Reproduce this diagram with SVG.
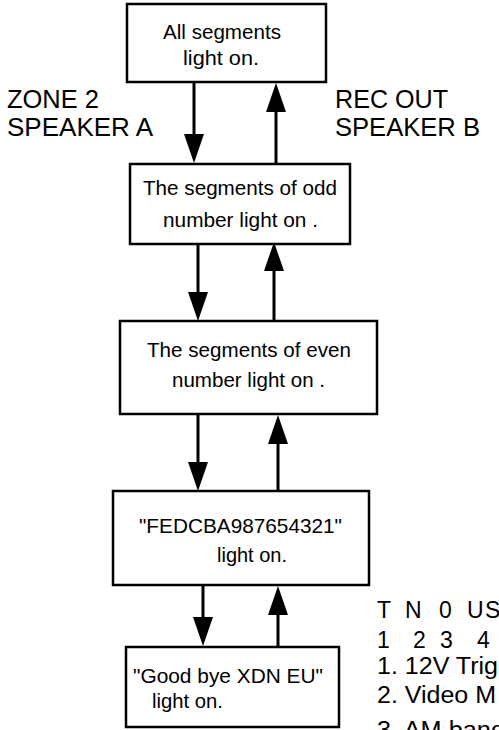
<svg xmlns="http://www.w3.org/2000/svg" width="499" height="730" viewBox="0 0 499 730">
<defs>
<style>
.box{fill:#fff;stroke:#000;stroke-width:2.5}
.t{font-family:"Liberation Sans",Arial,sans-serif;font-size:21px;fill:#000}
.lbl{font-family:"Liberation Sans",Arial,sans-serif;font-size:25px;fill:#000}
.side{font-family:"Liberation Sans",Arial,sans-serif;font-size:23px;fill:#000}
.c{stroke:#000;stroke-width:3;fill:none}
</style>
<marker id="ah" markerUnits="userSpaceOnUse" markerWidth="30" markerHeight="22" refX="0" refY="10" orient="auto" overflow="visible">
<path d="M0,0 L29,10 L0,20 z" fill="#000"/>
</marker>
</defs>
<rect width="499" height="730" fill="#fff"/>
<g id="connectors">
<line class="c" x1="194" y1="83" x2="194" y2="134" marker-end="url(#ah)"/>
<line class="c" x1="276" y1="164" x2="276" y2="112" marker-end="url(#ah)"/>
<line class="c" x1="198" y1="245" x2="198" y2="292" marker-end="url(#ah)"/>
<line class="c" x1="274" y1="320" x2="274" y2="271" marker-end="url(#ah)"/>
<line class="c" x1="198" y1="415" x2="198" y2="462" marker-end="url(#ah)"/>
<line class="c" x1="278" y1="490" x2="278" y2="444" marker-end="url(#ah)"/>
<line class="c" x1="203" y1="586" x2="203" y2="617" marker-end="url(#ah)"/>
<line class="c" x1="278" y1="646" x2="278" y2="615" marker-end="url(#ah)"/>
</g>
<g id="node1">
<rect class="box" x="127" y="4" width="199" height="78"/>
<text class="t" x="163" y="39" textLength="118" lengthAdjust="spacingAndGlyphs">All segments</text>
<text class="t" x="183" y="65" textLength="76" lengthAdjust="spacingAndGlyphs">light on.</text>
</g>
<g id="node2">
<rect class="box" x="130" y="164" width="220" height="80"/>
<text class="t" x="143" y="195" textLength="194" lengthAdjust="spacingAndGlyphs">The segments of odd</text>
<text class="t" x="163" y="227" textLength="155" lengthAdjust="spacingAndGlyphs">number light on .</text>
</g>
<g id="node3">
<rect class="box" x="120" y="321" width="257" height="93"/>
<text class="t" x="147" y="357" textLength="204" lengthAdjust="spacingAndGlyphs">The segments of even</text>
<text class="t" x="172" y="387" textLength="153" lengthAdjust="spacingAndGlyphs">number light on .</text>
</g>
<g id="node4">
<rect class="box" x="113" y="491" width="256" height="94"/>
<text class="t" x="139" y="533" textLength="203" lengthAdjust="spacingAndGlyphs">"FEDCBA987654321"</text>
<text class="t" x="217" y="562" textLength="70" lengthAdjust="spacingAndGlyphs">light on.</text>
</g>
<g id="node5">
<rect class="box" x="126" y="647" width="213" height="80"/>
<text class="t" x="133" y="683" textLength="190" lengthAdjust="spacingAndGlyphs">"Good bye XDN EU"</text>
<text class="t" x="152" y="708" textLength="71" lengthAdjust="spacingAndGlyphs">light on.</text>
</g>
<g id="labels">
<text class="lbl" x="7" y="108" textLength="92" lengthAdjust="spacingAndGlyphs">ZONE 2</text>
<text class="lbl" x="7" y="136" textLength="146" lengthAdjust="spacingAndGlyphs">SPEAKER A</text>
<text class="lbl" x="335" y="108" textLength="113" lengthAdjust="spacingAndGlyphs">REC OUT</text>
<text class="lbl" x="335" y="136" textLength="145" lengthAdjust="spacingAndGlyphs">SPEAKER B</text>
</g>
<g id="notes">
<text class="side" x="377 392 405 425 439 455 467 485" y="618">T N 0 US</text>
<text class="side" x="377 395 413 427 440 458 477" y="648">1 2 3 4</text>
<text class="side" x="377" y="674" textLength="121" lengthAdjust="spacingAndGlyphs">1. 12V Trig</text>
<text class="side" x="377" y="703" textLength="119" lengthAdjust="spacingAndGlyphs">2. Video M</text>
<text class="side" x="377" y="738" textLength="128" lengthAdjust="spacingAndGlyphs">3. AM band</text>
</g>
</svg>
